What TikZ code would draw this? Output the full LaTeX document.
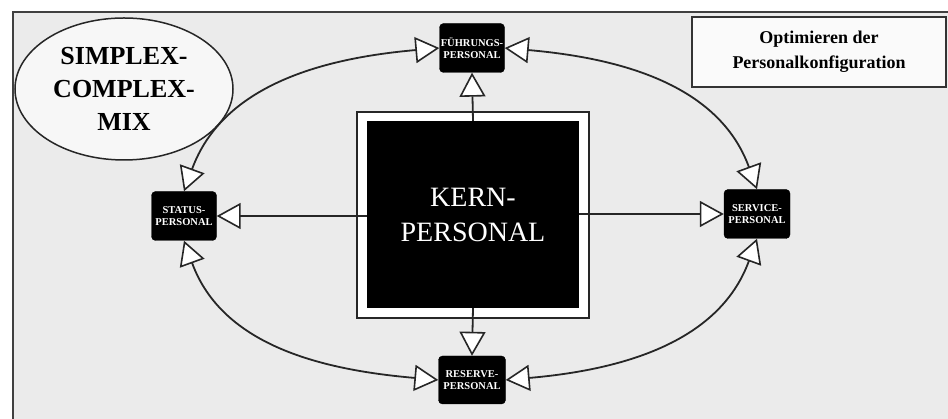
\documentclass[tikz,border=0pt]{standalone}
\usepackage{fontspec}
\setmainfont{Liberation Serif}
\usetikzlibrary{arrows.meta,shapes.geometric}
\tikzset{
  x=1pt,y=1pt,
  tri/.tip={Triangle[fill=white,length=24pt,width=26pt,line width=1.6pt]},
  smallbox/.style={draw=black,fill=black,rounded corners=4pt,minimum width=65pt,minimum height=49pt,inner sep=1pt,
    text=white,font=\fontsize{10.5}{12.5}\selectfont\bfseries,align=center},
  conn/.style={line width=1.8pt,draw=black!85},
  oneway/.style={conn,-tri},
  twoway/.style={conn,tri-tri},
}
\begin{document}
\begin{tikzpicture}
\useasboundingbox (0,0) rectangle (948,419);
\fill[white] (0,0) rectangle (948,419);
\fill[black!8] (13,0) rectangle (948,407);
\draw[line width=1.5pt,black!75] (13,0) -- (13,407) -- (948,407);

% title ellipse and box
\node[draw=black!85,line width=1.5pt,fill=black!3,ellipse,minimum width=218pt,minimum height=142pt,inner sep=0pt,
  font=\fontsize{26}{33}\selectfont\bfseries,align=center] (mix) at (124,330) {SIMPLEX-\\COMPLEX-\\MIX};
\node[draw=black!80,line width=1.4pt,fill=black!2,minimum width=254pt,minimum height=70pt,inner sep=0pt,
  font=\fontsize{18}{25}\selectfont\bfseries,align=center] (opt) at (819,367) {Optimieren der\\Personalkonfiguration};

% core
\node[draw=black!85,line width=1.5pt,fill=white,minimum width=232pt,minimum height=206pt,inner sep=0pt] (frame) at (473,204) {};
\node[fill=black,minimum width=212pt,minimum height=187pt,inner sep=0pt,text=white,
  font=\fontsize{28}{35}\selectfont,align=center] (kern) at (473,204.5) {KERN-\\PERSONAL};

% satellites
\node[smallbox] (fp) at (472,371) {FÜHRUNGS-\\PERSONAL};
\node[smallbox] (sp) at (184,203) {STATUS-\\PERSONAL};
\node[smallbox,minimum width=66pt] (vp) at (757,205) {SERVICE-\\PERSONAL};
\node[smallbox,minimum width=67pt,minimum height=48pt] (rp) at (472,39) {RESERVE-\\PERSONAL};

% radial connectors
\draw[oneway] (kern.north) -- (fp.south);
\draw[oneway] (kern.west |- sp.east) -- (sp.east);
\draw[oneway] (kern.east |- vp.west) -- (vp.west);
\draw[oneway] (kern.south) -- (rp.north);

% orbit arcs
\draw[twoway] (fp.west) to[out=185,in=70] (sp.north);
\draw[twoway] (fp.east) to[out=-5,in=110] (vp.north);
\draw[twoway] (rp.west) to[out=175,in=-70] (sp.south);
\draw[twoway] (rp.east) to[out=5,in=-110] (vp.south);
\end{tikzpicture}
\end{document}
